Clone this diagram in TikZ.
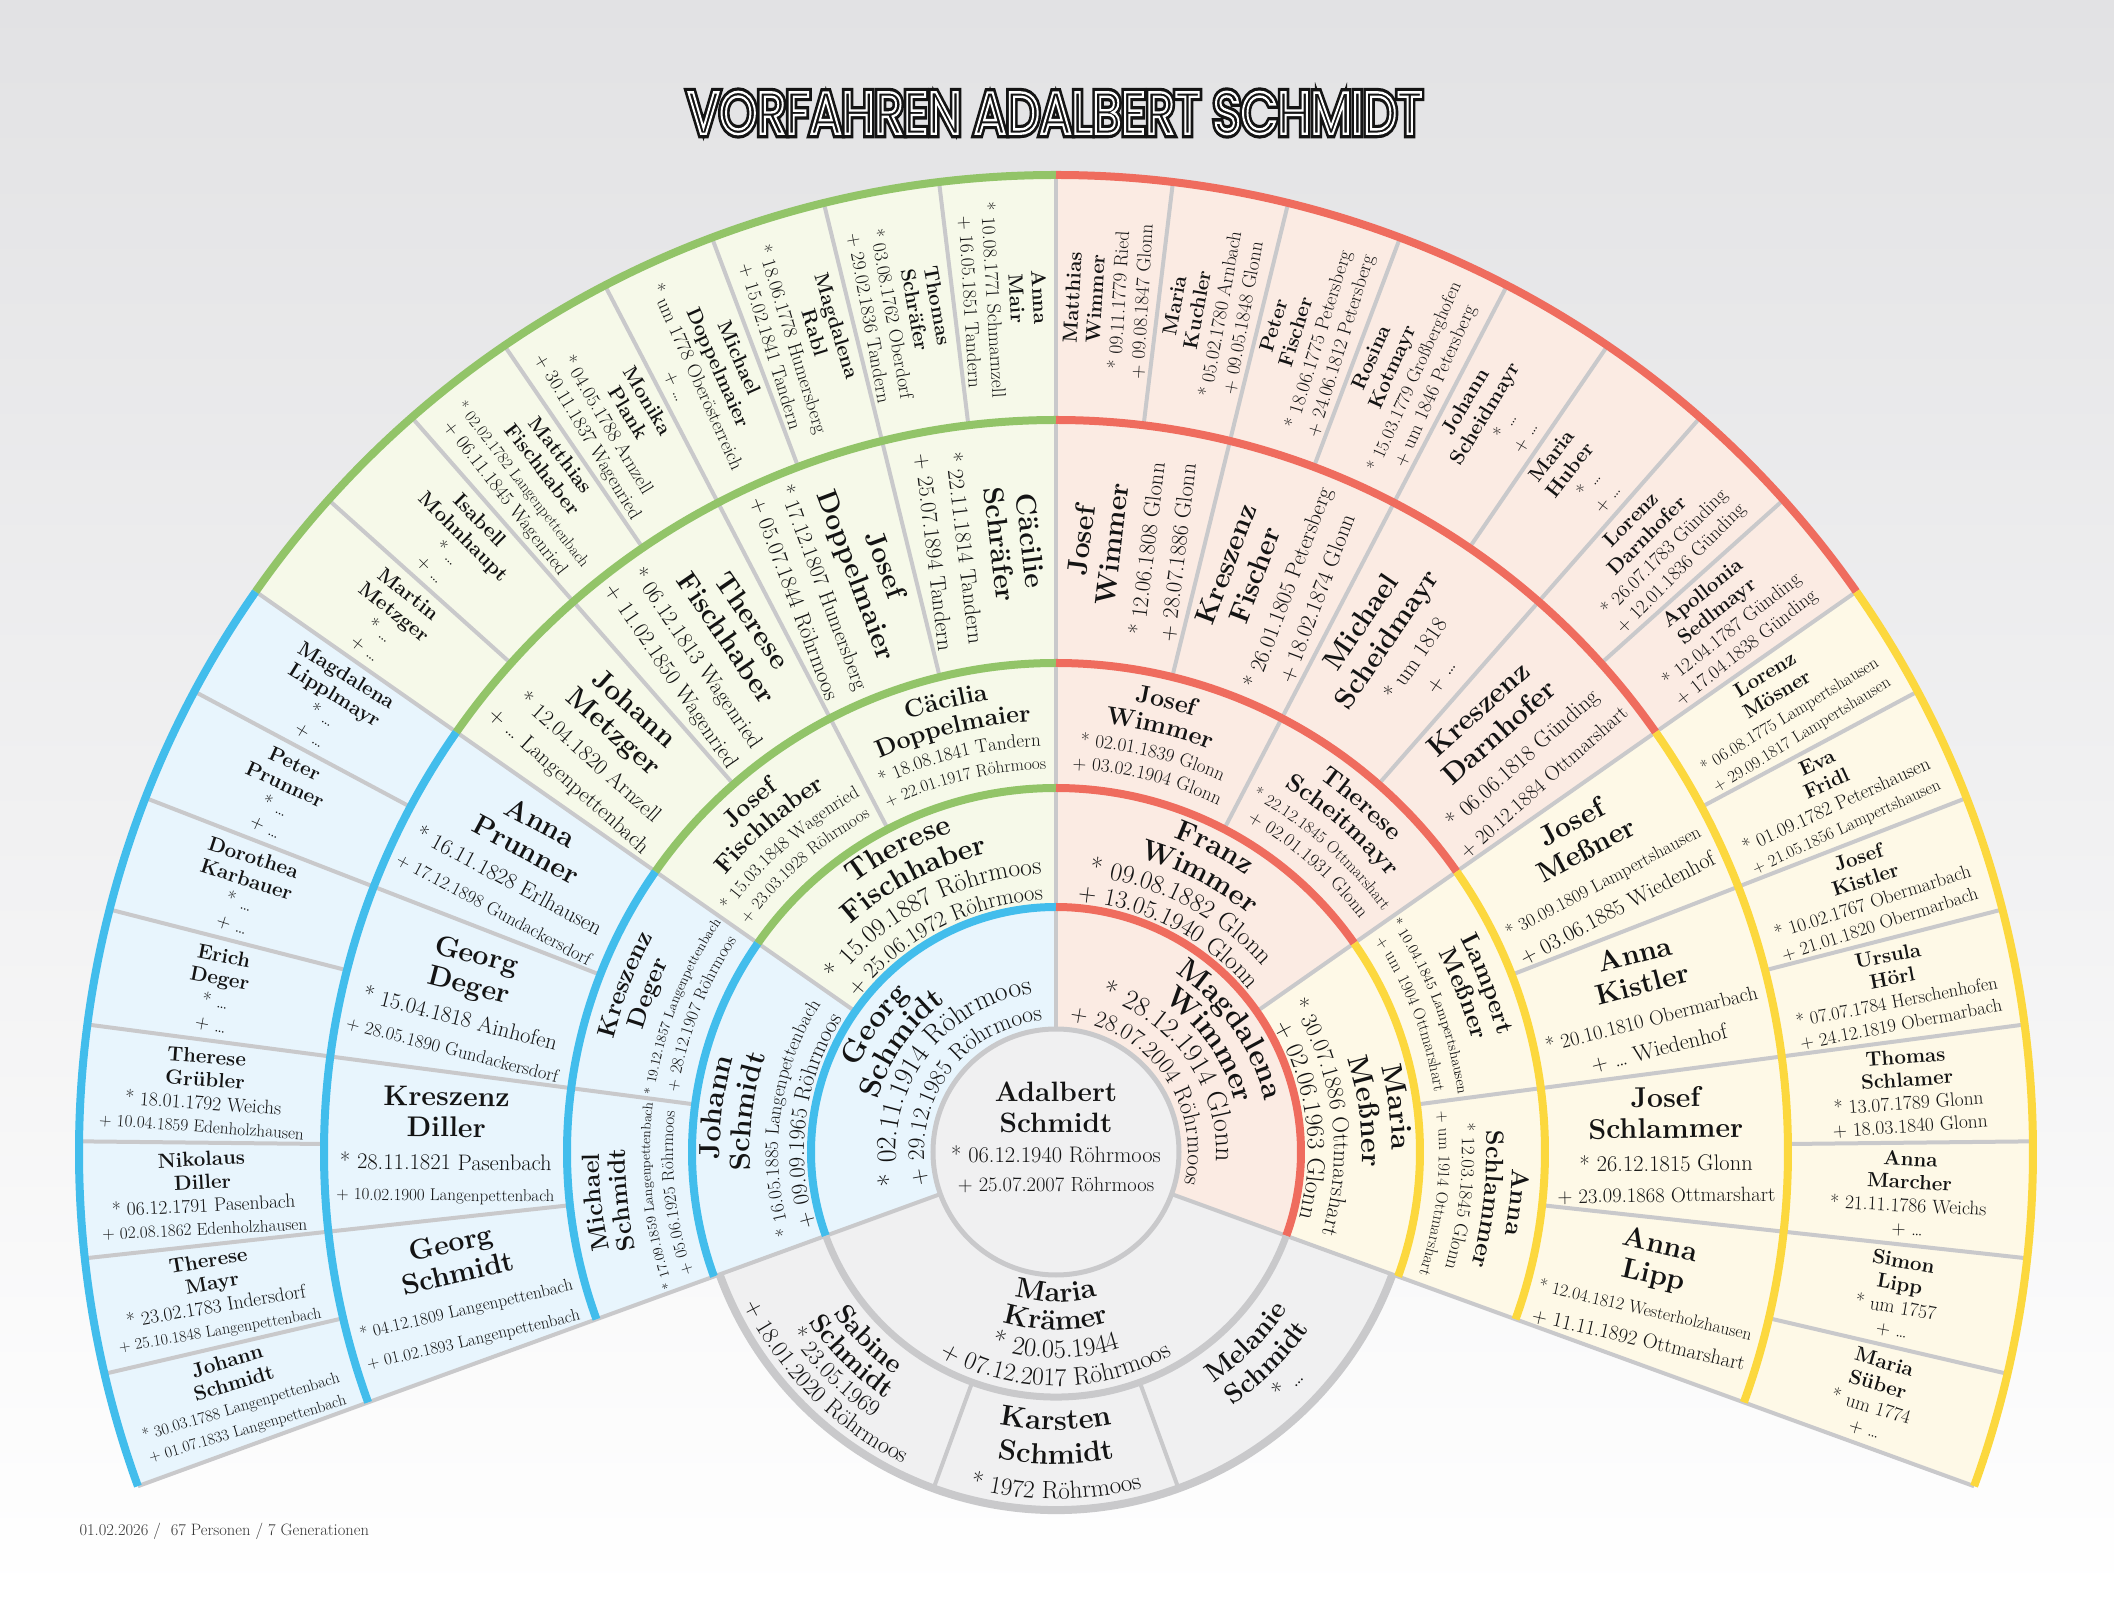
\documentclass[tikz,border=0pt]{standalone}
\usepackage{fontspec}
\usepackage{graphicx}
\usetikzlibrary{decorations.text}
\newfontfamily\titlefont{Poppins}
\definecolor{cblue}{RGB}{66,189,236}
\definecolor{cgreen}{RGB}{146,196,104}
\definecolor{cred}{RGB}{239,108,94}
\definecolor{cyellow}{RGB}{252,216,62}
\definecolor{fblue}{RGB}{232,245,253}
\definecolor{fgreen}{RGB}{246,249,233}
\definecolor{fred}{RGB}{251,235,227}
\definecolor{fyellow}{RGB}{254,249,231}
\definecolor{sepgray}{RGB}{201,201,203}
\definecolor{fgray}{RGB}{240,240,241}
\definecolor{ink}{RGB}{20,20,20}
\definecolor{bgtop}{RGB}{226,226,228}
\newsavebox\fitbox
\newdimen\fitw
% straight line, shrunk to fit a width
\newcommand\fitt[4]{\sbox\fitbox{#3\fontsize{#2}{#2}\selectfont #4}\ifdim\wd\fitbox>#1pt\relax\resizebox{#1pt}{!}{\usebox\fitbox}\else\usebox\fitbox\fi}
% text along an arc: a1 a2 radius fontswitch size text
\makeatletter
\newcommand\arcline[6]{%
  \sbox\fitbox{#4\fontsize{#5}{#5}\pgf@selectfontorig #6}%
  \fitw=\wd\fitbox
  \edef\fitwn{\strip@pt\fitw}%
  \pgfmathsetmacro\alen{0.9*#3*rad(abs(#1-#2))}%
  \pgfmathsetmacro\afs{min(#5,#5*(\alen/(\fitwn+1)))}%
  \pgfmathsetmacro\aS{#1>#2 ? #1+25 : #1-25}%
  \pgfmathsetmacro\aE{#1>#2 ? #2-25 : #2+25}%
  \path[decorate,decoration={text along path,text align=center,text color=ink,
    text={|#4\fontsize{\afs}{\afs}\pgf@selectfontorig|#6}}]
    (\aS:#3) arc[start angle=\aS,end angle=\aE,radius=#3];}
\makeatother
% title with an inline (outlined) look
\newcommand\titlelayer[3]{\resizebox{735pt}{42pt}{\special{pdf:literal direct #1 Tr #2 w #3 G}\titlefont\MakeUppercase{Vorfahren Adalbert Schmidt}\special{pdf:literal direct 0 Tr}}}
\newcommand\fansector[5]{\fill[#1] (#2:#4) arc[start angle=#2,end angle=#3,radius=#4] -- (#3:#5) arc[start angle=#3,end angle=#2,radius=#5] -- cycle;}
\newcommand\carc[4]{\draw[#1,line width=8pt] (#2:#4) arc[start angle=#2,end angle=#3,radius=#4];}
\newcommand\gfive[5]{%
  \pgfmathsetmacro\cmid{200-6.875*(#1+0.5)}%
  \pgfmathsetmacro\crot{\cmid>90 ? \cmid+180 : \cmid}%
  \node[g5,rotate=\crot] (pf#1) at (\cmid:854) {\fitt{205}{20.5}{\bfseries}{#2}\\\fitt{205}{20.5}{\bfseries}{#3}\\\fitt{205}{19.5}{}{#4}\\\fitt{205}{19.5}{}{#5}};}
\newcommand\gfour[5]{%
  \pgfmathsetmacro\cmid{200-13.75*(#1+0.5)}%
  \pgfmathsetmacro\crot{\cmid>90 ? \cmid+180 : \cmid}%
  \node[g4,rotate=\crot] (pv#1) at (\cmid:610) {\fitt{218}{28.5}{\bfseries}{#2}\\\fitt{218}{28.5}{\bfseries}{#3}\\[2pt]\fitt{218}{22.5}{}{#4}\\\fitt{218}{22.5}{}{#5}};}
\newcommand\gthree[6]{%
  \arcline{#1}{#2}{457}{\bfseries}{25}{#3}%
  \arcline{#1}{#2}{431}{\bfseries}{25}{#4}%
  \arcline{#1}{#2}{406}{}{19}{#5}%
  \arcline{#1}{#2}{383}{}{19}{#6}}
\newcommand\gtwo[6]{%
  \arcline{#1}{#2}{336}{\bfseries}{29}{#3}%
  \arcline{#1}{#2}{306}{\bfseries}{29}{#4}%
  \arcline{#1}{#2}{278}{}{26}{#5}%
  \arcline{#1}{#2}{252}{}{25}{#6}}
\newcommand\gone[6]{%
  \arcline{#1}{#2}{215}{\bfseries}{30}{#3}%
  \arcline{#1}{#2}{186}{\bfseries}{30}{#4}%
  \arcline{#1}{#2}{160}{}{28}{#5}%
  \arcline{#1}{#2}{132}{}{24}{#6}}
\begin{document}
\begin{tikzpicture}[x=1pt,y=1pt,
  sep/.style={draw=sepgray,line width=4pt},
  g5/.style={align=center,inner sep=0pt,text=ink,font=\fontsize{19.5}{23}\selectfont},
  g4/.style={align=center,inner sep=0pt,text=ink,font=\fontsize{22.5}{31}\selectfont}]
\useasboundingbox (-1056,-448) rectangle (1058,1152);
\shade[top color=bgtop,bottom color=white] (-1056,-448) rectangle (1058,1152);
% fills
\fansector{fblue}{90}{200}{123}{245}
\fansector{fred}{-20}{90}{123}{245}
\fansector{fblue}{145}{200}{245}{977}
\fansector{fgreen}{90}{145}{245}{977}
\fansector{fred}{35}{90}{245}{977}
\fansector{fyellow}{-20}{35}{245}{977}
\fansector{fgray}{200}{340}{123}{358}
% separators
\foreach \k in {1,...,31}{\pgfmathsetmacro\sepa{200-6.875*\k}\draw[sep] (\sepa:732) -- (\sepa:977);}
\foreach \k in {1,...,15}{\pgfmathsetmacro\sepa{200-13.75*\k}\draw[sep] (\sepa:489) -- (\sepa:732);}
\foreach \k in {1,...,7}{\pgfmathsetmacro\sepa{200-27.5*\k}\draw[sep] (\sepa:364) -- (\sepa:489);}
\foreach \a in {145,90,35}{\draw[sep] (\a:245) -- (\a:364);}
\draw[sep] (90:123) -- (90:245);
\draw[sep] (200:123) -- (200:977);
\draw[sep] (-20:123) -- (-20:977);
\draw[sep] (250:245) -- (250:358);
\draw[sep] (290:245) -- (290:358);
% coloured rims
\carc{cblue}{200}{90}{245}
\carc{cred}{90}{-20}{245}
\foreach \rr in {364,489,732,977}{\carc{cblue}{200}{145}{\rr}\carc{cgreen}{145}{90}{\rr}\carc{cred}{90}{35}{\rr}\carc{cyellow}{35}{-20}{\rr}}
\draw[draw=sepgray,line width=7pt] (200:245) arc[start angle=200,end angle=340,radius=245];
\draw[draw=sepgray,line width=8pt] (200:358) arc[start angle=200,end angle=340,radius=358];
\draw[draw=sepgray,line width=5pt,fill=fgray] (0,0) circle[radius=123];
% centre person
\node[anchor=base,text=ink,font=\bfseries\fontsize{28}{28}\selectfont] (c1) at (0,50) {Adalbert};
\node[anchor=base,text=ink,font=\bfseries\fontsize{28}{28}\selectfont] (c2) at (0,19) {Schmidt};
\node[anchor=base,text=ink,font=\fontsize{22.5}{22.5}\selectfont] (c3) at (0,-11) {* 06.12.1940 Röhrmoos};
\node[anchor=base,text=ink,font=\fontsize{20.5}{20.5}\selectfont] (c4) at (0,-40) {+ 25.07.2007 Röhrmoos};
% generation 1
\gone{200}{90}{Georg}{Schmidt}{* 02.11.1914 Röhrmoos}{+ 29.12.1985 Röhrmoos}
\gone{90}{-20}{Magdalena}{Wimmer}{* 28.12.1914 Glonn}{+ 28.07.2004 Röhrmoos}
% generation 2
\gtwo{200}{145}{Johann}{Schmidt}{* 16.05.1885 Langenpettenbach}{+ 09.09.1965 Röhrmoos}
\gtwo{145}{90}{Therese}{Fischhaber}{* 15.09.1887 Röhrmoos}{+ 25.06.1972 Röhrmoos}
\gtwo{90}{35}{Franz}{Wimmer}{* 09.08.1882 Glonn}{+ 13.05.1940 Glonn}
\gtwo{35}{-20}{Maria}{Meßner}{* 30.07.1886 Ottmarshart}{+ 02.06.1963 Glonn}
% generation 3
\gthree{200}{172.5}{Michael}{Schmidt}{* 17.09.1859 Langenpettenbach}{+ 05.06.1925 Röhrmoos}
\gthree{172.5}{145}{Kreszenz}{Deger}{* 19.12.1857 Langenpettenbach}{+ 28.12.1907 Röhrmoos}
\gthree{145}{117.5}{Josef}{Fischhaber}{* 15.03.1848 Wagenried}{+ 23.03.1928 Röhrmoos}
\gthree{117.5}{90}{Cäcilia}{Doppelmaier}{* 18.08.1841 Tandern}{+ 22.01.1917 Röhrmoos}
\gthree{90}{62.5}{Josef}{Wimmer}{* 02.01.1839 Glonn}{+ 03.02.1904 Glonn}
\gthree{62.5}{35}{Therese}{Scheitmayr}{* 22.12.1845 Ottmarshart}{+ 02.01.1931 Glonn}
\gthree{35}{7.5}{Lampert}{Meßner}{* 10.04.1845 Lampertshausen}{+ um 1904 Ottmarshart}
\gthree{7.5}{-20}{Anna}{Schlammer}{* 12.03.1845 Glonn}{+ um 1914 Ottmarshart}
% generation 4
\gfour{0}{Georg}{Schmidt}{* 04.12.1809 Langenpettenbach}{+ 01.02.1893 Langenpettenbach}
\gfour{1}{Kreszenz}{Diller}{* 28.11.1821 Pasenbach}{+ 10.02.1900 Langenpettenbach}
\gfour{2}{Georg}{Deger}{* 15.04.1818 Ainhofen}{+ 28.05.1890 Gundackersdorf}
\gfour{3}{Anna}{Prunner}{* 16.11.1828 Erlhausen}{+ 17.12.1898 Gundackersdorf}
\gfour{4}{Johann}{Metzger}{* 12.04.1820 Arnzell}{+ … Langenpettenbach}
\gfour{5}{Therese}{Fischhaber}{* 06.12.1813 Wagenried}{+ 11.02.1850 Wagenried}
\gfour{6}{Josef}{Doppelmaier}{* 17.12.1807 Humersberg}{+ 05.07.1844 Röhrmoos}
\gfour{7}{Cäcilie}{Schräfer}{* 22.11.1814 Tandern}{+ 25.07.1894 Tandern}
\gfour{8}{Josef}{Wimmer}{* 12.06.1808 Glonn}{+ 28.07.1886 Glonn}
\gfour{9}{Kreszenz}{Fischer}{* 26.01.1805 Petersberg}{+ 18.02.1874 Glonn}
\gfour{10}{Michael}{Scheidmayr}{* um 1818}{+ …}
\gfour{11}{Kreszenz}{Darnhofer}{* 06.06.1818 Günding}{+ 20.12.1884 Ottmarshart}
\gfour{12}{Josef}{Meßner}{* 30.09.1809 Lampertshausen}{+ 03.06.1885 Wiedenhof}
\gfour{13}{Anna}{Kistler}{* 20.10.1810 Obermarbach}{+ … Wiedenhof}
\gfour{14}{Josef}{Schlammer}{* 26.12.1815 Glonn}{+ 23.09.1868 Ottmarshart}
\gfour{15}{Anna}{Lipp}{* 12.04.1812 Westerholzhausen}{+ 11.11.1892 Ottmarshart}
% generation 5
\gfive{0}{Johann}{Schmidt}{* 30.03.1788 Langenpettenbach}{+ 01.07.1833 Langenpettenbach}
\gfive{1}{Therese}{Mayr}{* 23.02.1783 Indersdorf}{+ 25.10.1848 Langenpettenbach}
\gfive{2}{Nikolaus}{Diller}{* 06.12.1791 Pasenbach}{+ 02.08.1862 Edenholzhausen}
\gfive{3}{Therese}{Grübler}{* 18.01.1792 Weichs}{+ 10.04.1859 Edenholzhausen}
\gfive{4}{Erich}{Deger}{* …}{+ …}
\gfive{5}{Dorothea}{Karbauer}{* …}{+ …}
\gfive{6}{Peter}{Prunner}{* …}{+ …}
\gfive{7}{Magdalena}{Lipplmayr}{* …}{+ …}
\gfive{8}{Martin}{Metzger}{* …}{+ …}
\gfive{9}{Isabell}{Mohnhaupt}{* …}{+ …}
\gfive{10}{Matthias}{Fischhaber}{* 02.02.1782 Langenpettenbach}{+ 06.11.1845 Wagenried}
\gfive{11}{Monika}{Plank}{* 04.05.1788 Arnzell}{+ 30.11.1837 Wagenried}
\gfive{12}{Michael}{Doppelmaier}{* um 1778 Oberösterreich}{+ …}
\gfive{13}{Magdalena}{Rabl}{* 18.06.1778 Humersberg}{+ 15.02.1841 Tandern}
\gfive{14}{Thomas}{Schräfer}{* 03.08.1762 Oberdorf}{+ 29.02.1836 Tandern}
\gfive{15}{Anna}{Mair}{* 10.08.1771 Schmarnzell}{+ 16.05.1851 Tandern}
\gfive{16}{Matthias}{Wimmer}{* 09.11.1779 Ried}{+ 09.08.1847 Glonn}
\gfive{17}{Maria}{Kuchler}{* 05.02.1780 Arnbach}{+ 09.05.1848 Glonn}
\gfive{18}{Peter}{Fischer}{* 18.06.1775 Petersberg}{+ 24.06.1812 Petersberg}
\gfive{19}{Rosina}{Kotmayr}{* 15.03.1779 Großberghofen}{+ um 1846 Petersberg}
\gfive{20}{Johann}{Scheidmayr}{* …}{+ …}
\gfive{21}{Maria}{Huber}{* …}{+ …}
\gfive{22}{Lorenz}{Darnhofer}{* 26.07.1783 Günding}{+ 12.01.1836 Günding}
\gfive{23}{Apollonia}{Sedlmayr}{* 12.04.1787 Günding}{+ 17.04.1838 Günding}
\gfive{24}{Lorenz}{Mösner}{* 06.08.1775 Lampertshausen}{+ 29.09.1817 Lampertshausen}
\gfive{25}{Eva}{Fridl}{* 01.09.1782 Petershausen}{+ 21.05.1856 Lampertshausen}
\gfive{26}{Josef}{Kistler}{* 10.02.1767 Obermarbach}{+ 21.01.1820 Obermarbach}
\gfive{27}{Ursula}{Hörl}{* 07.07.1784 Herschenhofen}{+ 24.12.1819 Obermarbach}
\gfive{28}{Thomas}{Schlamer}{* 13.07.1789 Glonn}{+ 18.03.1840 Glonn}
\gfive{29}{Anna}{Marcher}{* 21.11.1786 Weichs}{+ …}
\gfive{30}{Simon}{Lipp}{* um 1757}{+ …}
\gfive{31}{Maria}{Süber}{* um 1774}{+ …}
% spouse and children
\arcline{200}{340}{150}{\bfseries}{28.5}{Maria}
\arcline{200}{340}{178}{\bfseries}{28.5}{Krämer}
\arcline{200}{340}{206}{}{26.5}{* 20.05.1944}
\arcline{200}{340}{234}{}{25.5}{+ 07.12.2017 Röhrmoos}
\arcline{200}{250}{275}{\bfseries}{27}{Sabine}
\arcline{200}{250}{300}{\bfseries}{27}{Schmidt}
\arcline{200}{250}{323}{}{24}{* 23.05.1969}
\arcline{200}{250}{347}{}{24}{+ 18.01.2020 Röhrmoos}
\arcline{250}{290}{278}{\bfseries}{29}{Karsten}
\arcline{250}{290}{312}{\bfseries}{29}{Schmidt}
\arcline{250}{290}{347}{}{25}{* 1972 Röhrmoos}
\arcline{290}{340}{280}{\bfseries}{27}{Melanie}
\arcline{290}{340}{309}{\bfseries}{27}{Schmidt}
\arcline{290}{340}{336}{}{24}{* …}
% title and footer
\node[text=ink,inner sep=0pt] (title) at (-1,1039) {\rlap{\titlelayer{2}{1.5}{0.08}}\titlelayer{1}{0.4}{1}};
\node[anchor=west,text=ink!85,font=\fontsize{16.5}{16.5}\selectfont] (footer) at (-980,-379) {01.02.2026 / \ 67 Personen / 7 Generationen};
\end{tikzpicture}
\end{document}
